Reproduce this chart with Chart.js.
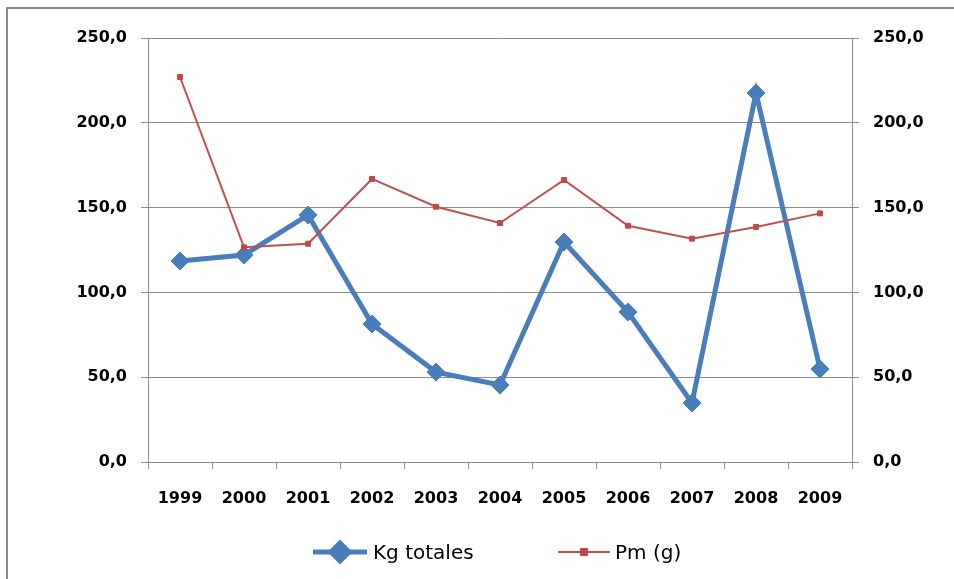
<!DOCTYPE html>
<html>
<head>
<meta charset="utf-8">
<script src="https://cdn.jsdelivr.net/npm/chart.js@4"></script>
<style>
  html, body { margin: 0; padding: 0; background: #fff; }
  #wrap { width: 954px; height: 579px; position: relative; }
</style>
</head>
<body>
<div id="wrap"><canvas id="c" width="954" height="579"></canvas></div>
<script>
const years = ['1999','2000','2001','2002','2003','2004','2005','2006','2007','2008','2009'];
const kgTotales = [118.5, 122.0, 145.6, 81.4, 53.0, 45.4, 129.7, 88.4, 34.8, 217.6, 54.8];
const pmG = [227.0, 126.6, 128.7, 166.9, 150.5, 140.9, 166.3, 139.3, 131.7, 138.6, 146.6];
const yTicks = [0, 50, 100, 150, 200, 250];

const GRID = '#8c8c8c';
const fmt = v => Number(v).toFixed(1).replace('.', ',');

const frame = {
  id: 'frame',
  beforeDraw(chart) {
    const ctx = chart.ctx;
    ctx.save();
    ctx.fillStyle = '#ffffff';
    ctx.fillRect(0, 0, chart.width, chart.height);
    ctx.strokeStyle = '#8a8a8a';
    ctx.lineWidth = 2;
    ctx.beginPath();
    ctx.moveTo(7, chart.height + 2);
    ctx.lineTo(7, 8);
    ctx.lineTo(chart.width + 2, 8);
    ctx.stroke();
    ctx.restore();
  }
};

const legendPlugin = {
  id: 'customLegend',
  afterDraw(chart) {
    const ctx = chart.ctx;
    const items = [
      { ds: chart.data.datasets[0], x0: 313, x1: 367, tx: 373 },
      { ds: chart.data.datasets[1], x0: 558, x1: 610, tx: 615 }
    ];
    const y = 552;
    ctx.save();
    items.forEach(it => {
      const ds = it.ds;
      ctx.strokeStyle = ds.borderColor;
      ctx.lineWidth = ds.borderWidth;
      ctx.beginPath();
      ctx.moveTo(it.x0, y);
      ctx.lineTo(it.x1, y);
      ctx.stroke();
      Chart.helpers.drawPoint(ctx, {
        pointStyle: ds.pointStyle,
        radius: ds.pointRadius,
        borderWidth: 1,
        rotation: 0
      }, (it.x0 + it.x1) / 2, y);
      ctx.fillStyle = ds.pointBackgroundColor;
      ctx.strokeStyle = ds.pointBorderColor;
      ctx.lineWidth = 1;
      ctx.beginPath();
      const cx = (it.x0 + it.x1) / 2, r = ds.pointRadius;
      if (ds.pointStyle === 'rectRot') {
        ctx.moveTo(cx, y - r); ctx.lineTo(cx + r, y); ctx.lineTo(cx, y + r); ctx.lineTo(cx - r, y); ctx.closePath();
      } else {
        ctx.rect(cx - r, y - r, 2 * r, 2 * r);
      }
      ctx.fill(); ctx.stroke();
      ctx.fillStyle = '#000';
      ctx.font = '20px "DejaVu Sans"';
      ctx.textBaseline = 'alphabetic';
      ctx.textAlign = 'left';
      ctx.fillText(ds.label, it.tx, 559);
    });
    ctx.restore();
  }
};

new Chart(document.getElementById('c'), {
  type: 'line',
  data: {
    labels: years,
    datasets: [
      {
        label: 'Kg totales',
        data: kgTotales,
        yAxisID: 'y',
        borderColor: '#4a7ebb',
        backgroundColor: '#4a7ebb',
        borderWidth: 5,
        pointStyle: 'rectRot',
        pointRadius: 9,
        pointBackgroundColor: '#4a7ebb',
        pointBorderColor: '#4a7ebb',
        pointBorderWidth: 1,
        tension: 0,
        order: 1
      },
      {
        label: 'Pm (g)',
        data: pmG,
        yAxisID: 'y2',
        borderColor: '#c0504d',
        backgroundColor: '#c0504d',
        borderWidth: 2,
        pointStyle: 'rect',
        pointRadius: 3.5,
        pointBackgroundColor: '#be4b48',
        pointBorderColor: '#be4b48',
        pointBorderWidth: 1,
        tension: 0,
        order: 0
      }
    ]
  },
  options: {
    responsive: false,
    animation: false,
    devicePixelRatio: 1,
    layout: { padding: { top: 38, left: 0, right: 0, bottom: 0 } },
    plugins: {
      legend: { display: false },
      tooltip: { enabled: false },
      title: { display: false }
    },
    scales: {
      x: {
        offset: true,
        grid: { offset: true, drawOnChartArea: false, drawTicks: true, tickLength: 7, color: GRID },
        border: { color: GRID, width: 1 },
        ticks: { color: '#000', padding: 20, font: { family: '"DejaVu Sans"', size: 16, weight: 'bold' }, maxRotation: 0, autoSkip: false },
        afterFit: s => { s.height = 117; }
      },
      y: {
        position: 'left',
        min: 0, max: 250,
        afterBuildTicks: s => { s.ticks = yTicks.map(v => ({ value: v })); },
        grid: { color: GRID, tickLength: 7, lineWidth: 1 },
        border: { color: GRID, width: 1 },
        ticks: { color: '#000', padding: 14, callback: fmt, font: { family: '"DejaVu Sans"', size: 16, weight: 'bold' } },
        afterFit: s => { s.width = 148; }
      },
      y2: {
        position: 'right',
        min: 0, max: 250,
        afterBuildTicks: s => { s.ticks = yTicks.map(v => ({ value: v })); },
        grid: { drawOnChartArea: false, color: GRID, tickLength: 7 },
        border: { color: GRID, width: 1 },
        ticks: { color: '#000', padding: 14, callback: fmt, font: { family: '"DejaVu Sans"', size: 16, weight: 'bold' } },
        afterFit: s => { s.width = 102; }
      }
    }
  },
  plugins: [frame, legendPlugin]
});
</script>
</body>
</html>
